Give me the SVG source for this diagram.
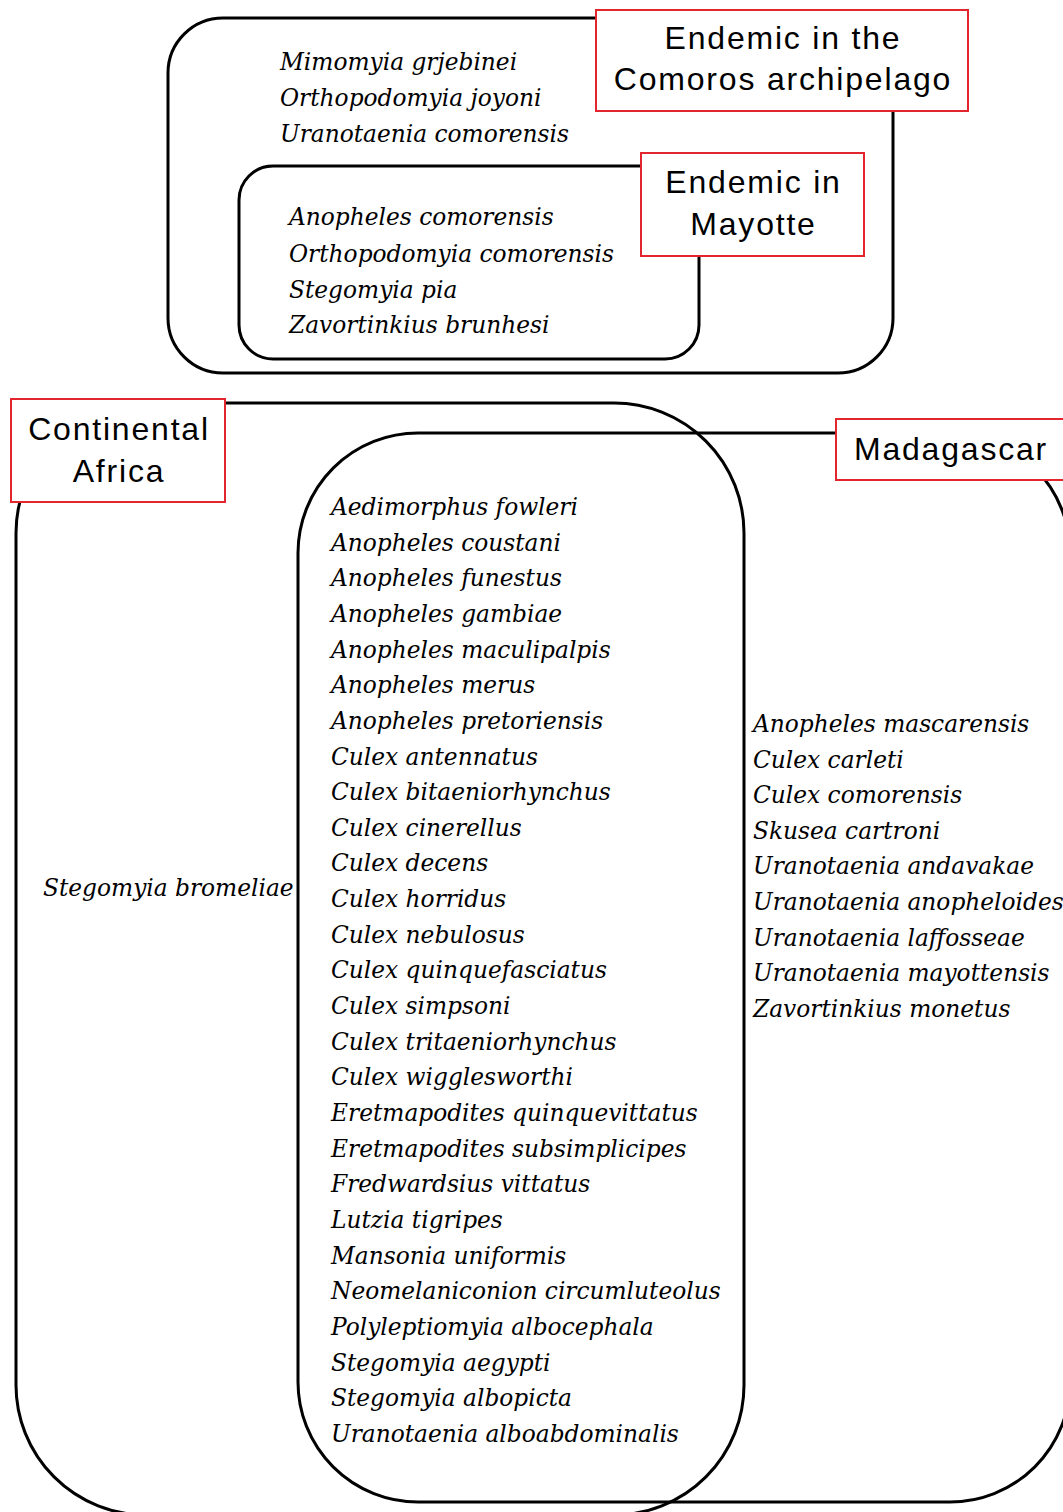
<svg xmlns="http://www.w3.org/2000/svg" width="1063" height="1512" viewBox="0 0 1063 1512">
<style>
.set{fill:none;stroke:#000;stroke-width:3}
.lab{fill:#fff;stroke:#e3262e;stroke-width:2}
.lt{font-family:"Liberation Sans",Arial,sans-serif;font-size:32px;letter-spacing:1.8px;fill:#000;text-anchor:middle}
.sp{font-family:"DejaVu Serif","Liberation Serif",serif;font-style:italic;font-size:23.3px;fill:#000}
</style>
<rect width="1063" height="1512" fill="#fff"/>
<g id="comoros">
<rect class="set" x="168" y="18" width="725" height="355" rx="55"/>
<text class="sp" x="280" y="70">Mimomyia grjebinei</text>
<text class="sp" x="280" y="106">Orthopodomyia joyoni</text>
<text class="sp" x="280" y="142">Uranotaenia comorensis</text>
</g>
<g id="mayotte">
<rect class="set" x="239" y="166" width="460" height="193" rx="34"/>
<text class="sp" x="289" y="225">Anopheles comorensis</text>
<text class="sp" x="289" y="262">Orthopodomyia comorensis</text>
<text class="sp" x="289" y="298">Stegomyia pia</text>
<text class="sp" x="289" y="333">Zavortinkius brunhesi</text>
</g>
<g id="africa">
<rect class="set" x="16" y="403" width="728" height="1112" rx="130"/>
<text class="sp" x="43" y="896">Stegomyia bromeliae</text>
</g>
<g id="madagascar">
<rect class="set" x="298" y="433" width="772" height="1069" rx="120"/>
<g class="sp">
<text x="753" y="732">Anopheles mascarensis</text>
<text x="753" y="768">Culex carleti</text>
<text x="753" y="803">Culex comorensis</text>
<text x="753" y="839">Skusea cartroni</text>
<text x="753" y="874">Uranotaenia andavakae</text>
<text x="753" y="910">Uranotaenia anopheloides</text>
<text x="753" y="946">Uranotaenia laffosseae</text>
<text x="753" y="981">Uranotaenia mayottensis</text>
<text x="753" y="1017">Zavortinkius monetus</text>
</g>
</g>
<g id="shared" class="sp">
<text x="331" y="515">Aedimorphus fowleri</text>
<text x="331" y="551">Anopheles coustani</text>
<text x="331" y="586">Anopheles funestus</text>
<text x="331" y="622">Anopheles gambiae</text>
<text x="331" y="658">Anopheles maculipalpis</text>
<text x="331" y="693">Anopheles merus</text>
<text x="331" y="729">Anopheles pretoriensis</text>
<text x="331" y="765">Culex antennatus</text>
<text x="331" y="800">Culex bitaeniorhynchus</text>
<text x="331" y="836">Culex cinerellus</text>
<text x="331" y="871">Culex decens</text>
<text x="331" y="907">Culex horridus</text>
<text x="331" y="943">Culex nebulosus</text>
<text x="331" y="978">Culex quinquefasciatus</text>
<text x="331" y="1014">Culex simpsoni</text>
<text x="331" y="1050">Culex tritaeniorhynchus</text>
<text x="331" y="1085">Culex wigglesworthi</text>
<text x="331" y="1121">Eretmapodites quinquevittatus</text>
<text x="331" y="1157">Eretmapodites subsimplicipes</text>
<text x="331" y="1192">Fredwardsius vittatus</text>
<text x="331" y="1228">Lutzia tigripes</text>
<text x="331" y="1264">Mansonia uniformis</text>
<text x="331" y="1299">Neomelaniconion circumluteolus</text>
<text x="331" y="1335">Polyleptiomyia albocephala</text>
<text x="331" y="1371">Stegomyia aegypti</text>
<text x="331" y="1406">Stegomyia albopicta</text>
<text x="331" y="1442">Uranotaenia alboabdominalis</text>
</g>
<g id="label-comoros">
<rect class="lab" x="596" y="10" width="372" height="101"/>
<text class="lt" x="783" y="49">Endemic in the</text>
<text class="lt" x="783" y="90">Comoros archipelago</text>
</g>
<g id="label-mayotte">
<rect class="lab" x="641" y="153" width="223" height="103"/>
<text class="lt" x="753.5" y="193">Endemic in</text>
<text class="lt" x="753.5" y="235">Mayotte</text>
</g>
<g id="label-africa">
<rect class="lab" x="11" y="399" width="214" height="103"/>
<text class="lt" x="119" y="440">Continental</text>
<text class="lt" x="119" y="482">Africa</text>
</g>
<g id="label-madagascar">
<rect class="lab" x="836" y="419" width="240" height="61"/>
<text class="lt" x="951" y="460">Madagascar</text>
</g>
</svg>
